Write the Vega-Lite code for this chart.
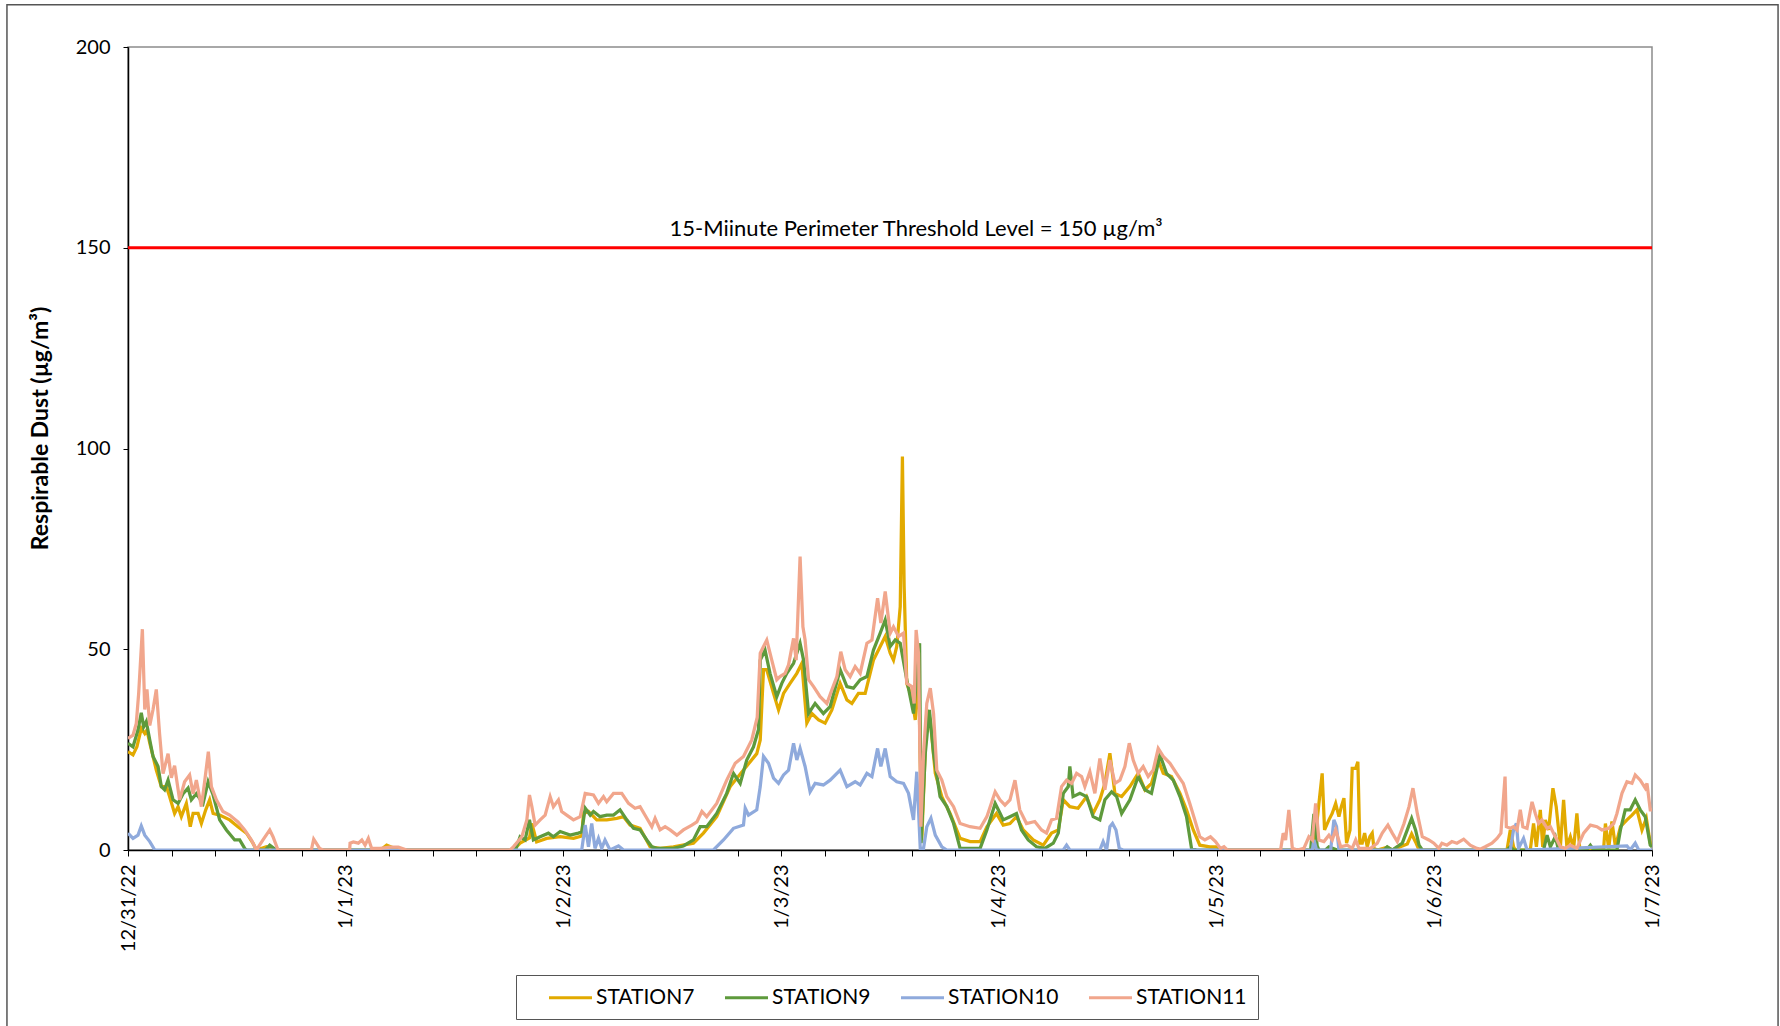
{
"$schema": "https://vega.github.io/schema/vega-lite/v6.json",
"width": 1524, "height": 803,
"autosize": {"type": "none"},
"padding": {"left": 128, "top": 47, "right": 128, "bottom": 176},
"background": "white",
"config": {"font": "Lato", "view": {"stroke": "#8c8c8c", "strokeWidth": 1.5}},
"datasets": {
"S7": [
{"day":0,"dust":24.5},{"day":0.023,"dust":23.7},{"day":0.041,"dust":25.7},{"day":0.061,"dust":30.3},{"day":0.077,"dust":29},{"day":0.087,"dust":29.9},{"day":0.1,"dust":26.6},{"day":0.115,"dust":23.3},{"day":0.13,"dust":19.9},{"day":0.153,"dust":15.8},{"day":0.176,"dust":15.8},{"day":0.191,"dust":13.3},{"day":0.214,"dust":9.1},{"day":0.23,"dust":10.8},{"day":0.245,"dust":8.3},{"day":0.268,"dust":11.6},{"day":0.286,"dust":5.8},{"day":0.299,"dust":9.1},{"day":0.322,"dust":9.1},{"day":0.337,"dust":6.6},{"day":0.357,"dust":10},{"day":0.375,"dust":12.5},{"day":0.391,"dust":9.1},{"day":0.421,"dust":8.7},{"day":0.467,"dust":7.5},{"day":0.505,"dust":5.8},{"day":0.544,"dust":4.2},{"day":0.574,"dust":1.7},{"day":0.59,"dust":0},{"day":0.636,"dust":0.8},{"day":0.681,"dust":0},{"day":1.16,"dust":0},{"day":1.188,"dust":1.2},{"day":1.22,"dust":0.5},{"day":1.26,"dust":0},{"day":1.77,"dust":0},{"day":1.801,"dust":1.7},{"day":1.844,"dust":3},{"day":1.855,"dust":6.6},{"day":1.877,"dust":2},{"day":1.923,"dust":2.9},{"day":1.985,"dust":3.3},{"day":2.046,"dust":2.9},{"day":2.084,"dust":3.5},{"day":2.092,"dust":9.1},{"day":2.115,"dust":9.6},{"day":2.153,"dust":7.5},{"day":2.199,"dust":7.5},{"day":2.245,"dust":7.9},{"day":2.276,"dust":8.3},{"day":2.306,"dust":6.2},{"day":2.352,"dust":5.4},{"day":2.398,"dust":0.8},{"day":2.444,"dust":0.4},{"day":2.505,"dust":0.8},{"day":2.597,"dust":1.7},{"day":2.643,"dust":4.2},{"day":2.704,"dust":8.3},{"day":2.766,"dust":15.8},{"day":2.827,"dust":19.9},{"day":2.888,"dust":24},{"day":2.904,"dust":27.4},{"day":2.919,"dust":44.9},{"day":2.934,"dust":44.9},{"day":2.965,"dust":39},{"day":2.988,"dust":34.9},{"day":3.011,"dust":39},{"day":3.041,"dust":41.5},{"day":3.072,"dust":44},{"day":3.095,"dust":46.5},{"day":3.118,"dust":31.6},{"day":3.141,"dust":34},{"day":3.172,"dust":32.4},{"day":3.202,"dust":31.6},{"day":3.233,"dust":34.9},{"day":3.271,"dust":41.5},{"day":3.302,"dust":37.4},{"day":3.325,"dust":36.5},{"day":3.355,"dust":39},{"day":3.386,"dust":39},{"day":3.424,"dust":47.3},{"day":3.455,"dust":50.7},{"day":3.478,"dust":53.2},{"day":3.501,"dust":49},{"day":3.516,"dust":47.3},{"day":3.531,"dust":50.7},{"day":3.547,"dust":60.6},{"day":3.557,"dust":98},{"day":3.565,"dust":65.6},{"day":3.577,"dust":41.5},{"day":3.6,"dust":38.2},{"day":3.616,"dust":32.4},{"day":3.631,"dust":45},{"day":3.646,"dust":2.5},{"day":3.669,"dust":34.9},{"day":3.685,"dust":32.4},{"day":3.708,"dust":19.1},{"day":3.738,"dust":13.3},{"day":3.776,"dust":9.1},{"day":3.822,"dust":2.9},{"day":3.868,"dust":2.1},{"day":3.914,"dust":2.1},{"day":3.945,"dust":5.8},{"day":3.989,"dust":9.1},{"day":4.02,"dust":6.2},{"day":4.051,"dust":6.6},{"day":4.081,"dust":8.3},{"day":4.112,"dust":5},{"day":4.158,"dust":2.5},{"day":4.204,"dust":1.2},{"day":4.242,"dust":4.2},{"day":4.273,"dust":5},{"day":4.296,"dust":12.5},{"day":4.326,"dust":10.8},{"day":4.364,"dust":10.4},{"day":4.403,"dust":13.3},{"day":4.433,"dust":9.1},{"day":4.464,"dust":12.5},{"day":4.487,"dust":16.6},{"day":4.51,"dust":24.1},{"day":4.533,"dust":14.1},{"day":4.564,"dust":13.3},{"day":4.602,"dust":15.8},{"day":4.64,"dust":19.1},{"day":4.671,"dust":15},{"day":4.701,"dust":16.6},{"day":4.732,"dust":22.4},{"day":4.755,"dust":19.1},{"day":4.793,"dust":18.3},{"day":4.832,"dust":14.1},{"day":4.862,"dust":10},{"day":4.893,"dust":5},{"day":4.923,"dust":1.2},{"day":4.969,"dust":0.8},{"day":5.0,"dust":0.8},{"day":5.031,"dust":0},{"day":5.44,"dust":0},{"day":5.447,"dust":0.8},{"day":5.462,"dust":7.5},{"day":5.485,"dust":19.1},{"day":5.496,"dust":5},{"day":5.516,"dust":7.5},{"day":5.531,"dust":9.1},{"day":5.547,"dust":11.6},{"day":5.562,"dust":8.3},{"day":5.573,"dust":10.8},{"day":5.585,"dust":12.9},{"day":5.597,"dust":1.7},{"day":5.613,"dust":5},{"day":5.623,"dust":20.3},{"day":5.639,"dust":20.3},{"day":5.649,"dust":22},{"day":5.658,"dust":1.7},{"day":5.669,"dust":1.7},{"day":5.68,"dust":4.2},{"day":5.692,"dust":0.8},{"day":5.704,"dust":3.3},{"day":5.715,"dust":4.2},{"day":5.723,"dust":0.4},{"day":5.738,"dust":0},{"day":5.784,"dust":0.7},{"day":5.807,"dust":0},{"day":5.876,"dust":1.5},{"day":5.896,"dust":4},{"day":5.914,"dust":2},{"day":5.93,"dust":0},{"day":6.334,"dust":0},{"day":6.349,"dust":5},{"day":6.364,"dust":0.8},{"day":6.372,"dust":0},{"day":6.441,"dust":0},{"day":6.456,"dust":6.6},{"day":6.469,"dust":0.8},{"day":6.487,"dust":10},{"day":6.498,"dust":0.8},{"day":6.51,"dust":7.5},{"day":6.525,"dust":5},{"day":6.545,"dust":15.4},{"day":6.56,"dust":10.8},{"day":6.579,"dust":0.8},{"day":6.594,"dust":12.5},{"day":6.609,"dust":0.8},{"day":6.625,"dust":3.3},{"day":6.64,"dust":0.4},{"day":6.655,"dust":9.1},{"day":6.668,"dust":0.4},{"day":6.778,"dust":0.4},{"day":6.786,"dust":6.6},{"day":6.801,"dust":0.4},{"day":6.816,"dust":7.1},{"day":6.832,"dust":0.8},{"day":6.855,"dust":5.8},{"day":6.885,"dust":7.5},{"day":6.908,"dust":8.7},{"day":6.931,"dust":10},{"day":6.954,"dust":5},{"day":6.974,"dust":7.9},{"day":6.992,"dust":1.7},{"day":7,"dust":1}
],
"S9": [
{"day":0,"dust":26.6},{"day":0.023,"dust":25.7},{"day":0.046,"dust":29.9},{"day":0.061,"dust":34.2},{"day":0.072,"dust":30.7},{"day":0.084,"dust":32},{"day":0.1,"dust":27.4},{"day":0.115,"dust":23.3},{"day":0.138,"dust":20.8},{"day":0.153,"dust":15.8},{"day":0.168,"dust":15},{"day":0.184,"dust":17.4},{"day":0.207,"dust":12.5},{"day":0.23,"dust":11.6},{"day":0.253,"dust":14},{"day":0.276,"dust":15.4},{"day":0.291,"dust":12.5},{"day":0.314,"dust":14},{"day":0.345,"dust":11.6},{"day":0.368,"dust":17},{"day":0.391,"dust":13.7},{"day":0.421,"dust":7.5},{"day":0.452,"dust":5},{"day":0.49,"dust":2.5},{"day":0.513,"dust":2.5},{"day":0.536,"dust":0.4},{"day":0.544,"dust":0},{"day":0.63,"dust":0},{"day":0.651,"dust":1.2},{"day":0.681,"dust":0},{"day":1.78,"dust":0},{"day":1.801,"dust":3.3},{"day":1.824,"dust":2.5},{"day":1.844,"dust":7.5},{"day":1.862,"dust":2.5},{"day":1.893,"dust":3.3},{"day":1.931,"dust":4.2},{"day":1.954,"dust":3.3},{"day":1.985,"dust":4.6},{"day":2.031,"dust":3.7},{"day":2.069,"dust":4.2},{"day":2.084,"dust":4.5},{"day":2.1,"dust":10.4},{"day":2.123,"dust":8.7},{"day":2.138,"dust":9.6},{"day":2.168,"dust":8.3},{"day":2.199,"dust":8.7},{"day":2.23,"dust":8.7},{"day":2.26,"dust":10},{"day":2.291,"dust":7.5},{"day":2.322,"dust":5.4},{"day":2.352,"dust":5},{"day":2.383,"dust":2.5},{"day":2.406,"dust":0.8},{"day":2.429,"dust":0.4},{"day":2.505,"dust":0.4},{"day":2.551,"dust":1},{"day":2.597,"dust":2.5},{"day":2.628,"dust":5.8},{"day":2.658,"dust":5.8},{"day":2.704,"dust":9.1},{"day":2.75,"dust":14.1},{"day":2.781,"dust":19.1},{"day":2.812,"dust":16.6},{"day":2.842,"dust":22.4},{"day":2.873,"dust":25.7},{"day":2.896,"dust":30},{"day":2.904,"dust":47.3},{"day":2.926,"dust":49.8},{"day":2.949,"dust":44},{"day":2.98,"dust":38.2},{"day":3.003,"dust":41.5},{"day":3.026,"dust":44},{"day":3.057,"dust":46.5},{"day":3.087,"dust":51.5},{"day":3.103,"dust":47.3},{"day":3.126,"dust":34},{"day":3.156,"dust":36.5},{"day":3.194,"dust":34},{"day":3.225,"dust":35.7},{"day":3.271,"dust":44.9},{"day":3.302,"dust":40.7},{"day":3.332,"dust":40.3},{"day":3.363,"dust":42.4},{"day":3.394,"dust":43.2},{"day":3.424,"dust":49.8},{"day":3.455,"dust":54},{"day":3.478,"dust":57.3},{"day":3.501,"dust":50.7},{"day":3.524,"dust":52.3},{"day":3.547,"dust":51.5},{"day":3.577,"dust":42.4},{"day":3.608,"dust":34},{"day":3.636,"dust":51.5},{"day":3.643,"dust":1.7},{"day":3.662,"dust":24},{"day":3.681,"dust":34.9},{"day":3.7,"dust":24},{"day":3.73,"dust":13.3},{"day":3.761,"dust":10.8},{"day":3.792,"dust":6.6},{"day":3.822,"dust":0.4},{"day":3.914,"dust":0.4},{"day":3.945,"dust":5},{"day":3.983,"dust":11.6},{"day":4.006,"dust":9.1},{"day":4.02,"dust":7.5},{"day":4.051,"dust":8.3},{"day":4.081,"dust":9.1},{"day":4.104,"dust":5},{"day":4.135,"dust":2.5},{"day":4.173,"dust":0.8},{"day":4.211,"dust":0.4},{"day":4.25,"dust":1.7},{"day":4.273,"dust":4.2},{"day":4.296,"dust":14.1},{"day":4.319,"dust":15.8},{"day":4.326,"dust":20.8},{"day":4.341,"dust":13.3},{"day":4.372,"dust":14.1},{"day":4.403,"dust":13.3},{"day":4.433,"dust":8.3},{"day":4.464,"dust":7.5},{"day":4.487,"dust":12.5},{"day":4.518,"dust":14.5},{"day":4.541,"dust":13.3},{"day":4.564,"dust":9.1},{"day":4.602,"dust":12.5},{"day":4.64,"dust":18.3},{"day":4.671,"dust":15},{"day":4.701,"dust":14.1},{"day":4.74,"dust":23.7},{"day":4.77,"dust":19.1},{"day":4.801,"dust":17.4},{"day":4.832,"dust":13.3},{"day":4.862,"dust":8.3},{"day":4.885,"dust":0.4},{"day":4.908,"dust":0},{"day":5.432,"dust":0},{"day":5.447,"dust":9},{"day":5.462,"dust":1},{"day":5.47,"dust":0},{"day":5.5,"dust":0},{"day":5.516,"dust":0.8},{"day":5.554,"dust":0},{"day":5.769,"dust":0},{"day":5.784,"dust":0.8},{"day":5.807,"dust":0},{"day":5.853,"dust":1.7},{"day":5.876,"dust":5},{"day":5.896,"dust":7.9},{"day":5.914,"dust":5},{"day":5.93,"dust":1.2},{"day":5.945,"dust":0},{"day":6.334,"dust":0},{"day":6.349,"dust":0.8},{"day":6.364,"dust":0},{"day":6.502,"dust":0},{"day":6.518,"dust":3.7},{"day":6.533,"dust":0.8},{"day":6.556,"dust":3.3},{"day":6.571,"dust":0},{"day":6.7,"dust":0},{"day":6.717,"dust":1.2},{"day":6.732,"dust":0},{"day":6.839,"dust":0},{"day":6.855,"dust":5},{"day":6.877,"dust":10},{"day":6.9,"dust":10},{"day":6.923,"dust":12.5},{"day":6.946,"dust":10},{"day":6.969,"dust":8.3},{"day":6.992,"dust":1.2},{"day":7,"dust":0.8}
],
"S10": [
{"day":0,"dust":4.2},{"day":0.023,"dust":2.9},{"day":0.046,"dust":3.7},{"day":0.061,"dust":6},{"day":0.077,"dust":3.7},{"day":0.1,"dust":2.1},{"day":0.123,"dust":0},{"day":2.084,"dust":0},{"day":2.1,"dust":6.2},{"day":2.115,"dust":0.8},{"day":2.13,"dust":6.6},{"day":2.145,"dust":0.4},{"day":2.161,"dust":2.9},{"day":2.176,"dust":0.4},{"day":2.191,"dust":2.5},{"day":2.214,"dust":0},{"day":2.253,"dust":1},{"day":2.276,"dust":0},{"day":2.689,"dust":0},{"day":2.735,"dust":2.5},{"day":2.781,"dust":5.4},{"day":2.827,"dust":6.2},{"day":2.835,"dust":10.4},{"day":2.85,"dust":8.7},{"day":2.888,"dust":10},{"day":2.904,"dust":15.8},{"day":2.919,"dust":23.3},{"day":2.942,"dust":21.6},{"day":2.965,"dust":17.9},{"day":2.988,"dust":16.6},{"day":3.011,"dust":18.7},{"day":3.034,"dust":19.9},{"day":3.057,"dust":26.6},{"day":3.072,"dust":22.4},{"day":3.087,"dust":25.3},{"day":3.11,"dust":20.8},{"day":3.133,"dust":14.5},{"day":3.156,"dust":16.6},{"day":3.194,"dust":16.2},{"day":3.225,"dust":17.4},{"day":3.271,"dust":19.9},{"day":3.302,"dust":15.8},{"day":3.34,"dust":17},{"day":3.363,"dust":16.2},{"day":3.394,"dust":19.1},{"day":3.417,"dust":18.3},{"day":3.443,"dust":25.3},{"day":3.458,"dust":20.8},{"day":3.478,"dust":25.3},{"day":3.501,"dust":18.3},{"day":3.531,"dust":17},{"day":3.562,"dust":16.6},{"day":3.585,"dust":14.1},{"day":3.608,"dust":7.5},{"day":3.623,"dust":19.5},{"day":3.639,"dust":0.4},{"day":3.654,"dust":0.4},{"day":3.669,"dust":5.8},{"day":3.688,"dust":7.9},{"day":3.708,"dust":3.7},{"day":3.738,"dust":0.8},{"day":3.761,"dust":0},{"day":4.296,"dust":0},{"day":4.311,"dust":1.2},{"day":4.326,"dust":0},{"day":4.464,"dust":0},{"day":4.479,"dust":2.1},{"day":4.495,"dust":0},{"day":4.51,"dust":5.8},{"day":4.522,"dust":6.6},{"day":4.538,"dust":5},{"day":4.553,"dust":0.4},{"day":4.571,"dust":0},{"day":5.44,"dust":0},{"day":5.447,"dust":2.5},{"day":5.459,"dust":0},{"day":5.524,"dust":0},{"day":5.539,"dust":7.5},{"day":5.551,"dust":5.8},{"day":5.562,"dust":0},{"day":6.349,"dust":0},{"day":6.364,"dust":5},{"day":6.377,"dust":6.6},{"day":6.387,"dust":0.4},{"day":6.41,"dust":2.9},{"day":6.426,"dust":0},{"day":6.885,"dust":1},{"day":6.9,"dust":0},{"day":6.923,"dust":1.7},{"day":6.939,"dust":0},{"day":7,"dust":0}
],
"S11": [
{"day":0,"dust":27.8},{"day":0.023,"dust":28.6},{"day":0.038,"dust":31.5},{"day":0.049,"dust":39},{"day":0.066,"dust":55},{"day":0.077,"dust":35},{"day":0.087,"dust":40},{"day":0.1,"dust":31},{"day":0.115,"dust":35},{"day":0.13,"dust":40},{"day":0.145,"dust":29},{"day":0.161,"dust":19},{"day":0.184,"dust":24},{"day":0.199,"dust":18},{"day":0.214,"dust":21},{"day":0.237,"dust":12.5},{"day":0.26,"dust":17},{"day":0.283,"dust":18.7},{"day":0.299,"dust":14},{"day":0.314,"dust":17.4},{"day":0.337,"dust":10.8},{"day":0.352,"dust":17},{"day":0.369,"dust":24.5},{"day":0.383,"dust":15.8},{"day":0.406,"dust":12.5},{"day":0.436,"dust":9.6},{"day":0.467,"dust":8.7},{"day":0.505,"dust":7},{"day":0.536,"dust":5},{"day":0.567,"dust":2.5},{"day":0.59,"dust":0},{"day":0.62,"dust":2.5},{"day":0.651,"dust":5},{"day":0.666,"dust":3.3},{"day":0.689,"dust":0},{"day":0.842,"dust":0},{"day":0.853,"dust":2.7},{"day":0.88,"dust":0.4},{"day":0.896,"dust":0},{"day":1.018,"dust":0},{"day":1.02,"dust":1.7},{"day":1.035,"dust":2},{"day":1.058,"dust":1.7},{"day":1.074,"dust":2.5},{"day":1.089,"dust":1.2},{"day":1.104,"dust":2.9},{"day":1.119,"dust":0.4},{"day":1.158,"dust":0.4},{"day":1.204,"dust":0.7},{"day":1.242,"dust":0.7},{"day":1.28,"dust":0},{"day":1.755,"dust":0},{"day":1.77,"dust":0.8},{"day":1.809,"dust":3.3},{"day":1.832,"dust":7.5},{"day":1.844,"dust":13.7},{"day":1.855,"dust":10.8},{"day":1.87,"dust":6.2},{"day":1.893,"dust":7.5},{"day":1.916,"dust":8.7},{"day":1.939,"dust":13.3},{"day":1.954,"dust":10.8},{"day":1.977,"dust":12.5},{"day":1.992,"dust":9.6},{"day":2.015,"dust":8.7},{"day":2.046,"dust":7.5},{"day":2.077,"dust":8.3},{"day":2.1,"dust":14.1},{"day":2.138,"dust":13.7},{"day":2.161,"dust":11.6},{"day":2.184,"dust":13.3},{"day":2.199,"dust":12},{"day":2.23,"dust":14.1},{"day":2.268,"dust":14.1},{"day":2.299,"dust":11.6},{"day":2.329,"dust":10.4},{"day":2.352,"dust":10.8},{"day":2.383,"dust":7.9},{"day":2.406,"dust":5.8},{"day":2.421,"dust":7.9},{"day":2.444,"dust":5},{"day":2.467,"dust":5.8},{"day":2.49,"dust":5},{"day":2.521,"dust":3.7},{"day":2.551,"dust":5},{"day":2.59,"dust":6.2},{"day":2.613,"dust":7},{"day":2.636,"dust":9.6},{"day":2.658,"dust":8.3},{"day":2.704,"dust":11.6},{"day":2.75,"dust":17.4},{"day":2.789,"dust":21.6},{"day":2.827,"dust":23.3},{"day":2.865,"dust":27.4},{"day":2.89,"dust":33},{"day":2.904,"dust":49},{"day":2.919,"dust":50.7},{"day":2.934,"dust":52.3},{"day":2.957,"dust":47.3},{"day":2.98,"dust":42.4},{"day":2.995,"dust":43.2},{"day":3.018,"dust":44},{"day":3.034,"dust":46.1},{"day":3.057,"dust":52.7},{"day":3.069,"dust":47.3},{"day":3.087,"dust":73.1},{"day":3.1,"dust":55.6},{"day":3.11,"dust":52.3},{"day":3.126,"dust":42.4},{"day":3.149,"dust":40.7},{"day":3.179,"dust":38.2},{"day":3.21,"dust":36.5},{"day":3.233,"dust":39.9},{"day":3.256,"dust":43.2},{"day":3.274,"dust":49.4},{"day":3.294,"dust":44.9},{"day":3.317,"dust":43.2},{"day":3.34,"dust":45.7},{"day":3.363,"dust":44},{"day":3.394,"dust":51.5},{"day":3.417,"dust":52.3},{"day":3.443,"dust":62.7},{"day":3.458,"dust":56.5},{"day":3.478,"dust":64.4},{"day":3.501,"dust":54},{"day":3.516,"dust":55.6},{"day":3.539,"dust":53.2},{"day":3.562,"dust":54},{"day":3.577,"dust":41.5},{"day":3.6,"dust":40.7},{"day":3.611,"dust":36.5},{"day":3.62,"dust":54.8},{"day":3.631,"dust":49},{"day":3.642,"dust":5.8},{"day":3.654,"dust":24},{"day":3.669,"dust":36.5},{"day":3.685,"dust":40.3},{"day":3.7,"dust":34},{"day":3.715,"dust":19.9},{"day":3.738,"dust":17.4},{"day":3.761,"dust":13.3},{"day":3.792,"dust":10.8},{"day":3.822,"dust":6.6},{"day":3.868,"dust":5.8},{"day":3.914,"dust":5.4},{"day":3.945,"dust":8.3},{"day":3.983,"dust":14.5},{"day":4.005,"dust":12.5},{"day":4.028,"dust":11.2},{"day":4.051,"dust":12.5},{"day":4.074,"dust":17.4},{"day":4.096,"dust":10},{"day":4.127,"dust":6.6},{"day":4.165,"dust":7.1},{"day":4.196,"dust":5},{"day":4.219,"dust":4.2},{"day":4.242,"dust":7.5},{"day":4.265,"dust":7.9},{"day":4.288,"dust":15.8},{"day":4.311,"dust":17.4},{"day":4.334,"dust":16.6},{"day":4.357,"dust":19.1},{"day":4.38,"dust":18.3},{"day":4.395,"dust":15.8},{"day":4.418,"dust":19.5},{"day":4.441,"dust":14.1},{"day":4.464,"dust":22.8},{"day":4.487,"dust":15},{"day":4.51,"dust":22.4},{"day":4.533,"dust":16.6},{"day":4.556,"dust":17.4},{"day":4.579,"dust":20.8},{"day":4.599,"dust":26.6},{"day":4.617,"dust":22.4},{"day":4.64,"dust":19.1},{"day":4.663,"dust":20.8},{"day":4.686,"dust":18.3},{"day":4.709,"dust":19.9},{"day":4.732,"dust":25.3},{"day":4.755,"dust":23.3},{"day":4.786,"dust":21.6},{"day":4.816,"dust":19.1},{"day":4.847,"dust":16.6},{"day":4.877,"dust":11.6},{"day":4.9,"dust":7.5},{"day":4.923,"dust":3.3},{"day":4.946,"dust":2.5},{"day":4.972,"dust":3.3},{"day":4.995,"dust":2.1},{"day":5.018,"dust":0.4},{"day":5.034,"dust":0.8},{"day":5.049,"dust":0},{"day":5.294,"dust":0},{"day":5.306,"dust":4.2},{"day":5.317,"dust":2.5},{"day":5.332,"dust":10},{"day":5.348,"dust":0.4},{"day":5.371,"dust":0},{"day":5.401,"dust":0.4},{"day":5.424,"dust":3.3},{"day":5.44,"dust":2.5},{"day":5.455,"dust":11.6},{"day":5.47,"dust":2.5},{"day":5.493,"dust":2.1},{"day":5.516,"dust":3.7},{"day":5.531,"dust":2.5},{"day":5.547,"dust":5},{"day":5.57,"dust":0.8},{"day":5.6,"dust":1.2},{"day":5.623,"dust":0.4},{"day":5.639,"dust":2.5},{"day":5.654,"dust":0.4},{"day":5.707,"dust":0.4},{"day":5.738,"dust":1.7},{"day":5.761,"dust":4.2},{"day":5.787,"dust":6.2},{"day":5.807,"dust":4.2},{"day":5.83,"dust":2.1},{"day":5.861,"dust":6.6},{"day":5.884,"dust":10.8},{"day":5.902,"dust":15.4},{"day":5.922,"dust":9.1},{"day":5.945,"dust":3.3},{"day":5.975,"dust":2.5},{"day":5.998,"dust":1.7},{"day":6.021,"dust":0.4},{"day":6.035,"dust":1.7},{"day":6.058,"dust":1.2},{"day":6.081,"dust":2.1},{"day":6.104,"dust":1.7},{"day":6.135,"dust":2.7},{"day":6.165,"dust":1.2},{"day":6.196,"dust":0.4},{"day":6.211,"dust":0.2},{"day":6.234,"dust":0.8},{"day":6.265,"dust":1.7},{"day":6.288,"dust":2.9},{"day":6.306,"dust":4.2},{"day":6.315,"dust":10.8},{"day":6.325,"dust":18.3},{"day":6.331,"dust":5.8},{"day":6.349,"dust":5.4},{"day":6.364,"dust":5.8},{"day":6.38,"dust":5},{"day":6.395,"dust":10},{"day":6.407,"dust":5.8},{"day":6.426,"dust":5.4},{"day":6.449,"dust":12},{"day":6.464,"dust":9.1},{"day":6.479,"dust":6.6},{"day":6.495,"dust":7.5},{"day":6.518,"dust":5.4},{"day":6.533,"dust":5.8},{"day":6.556,"dust":3.3},{"day":6.579,"dust":0.8},{"day":6.602,"dust":0.4},{"day":6.625,"dust":1.2},{"day":6.655,"dust":0.4},{"day":6.686,"dust":4.2},{"day":6.717,"dust":6.2},{"day":6.747,"dust":5.8},{"day":6.77,"dust":5},{"day":6.801,"dust":5.4},{"day":6.824,"dust":6.6},{"day":6.839,"dust":9.1},{"day":6.862,"dust":14.1},{"day":6.885,"dust":17},{"day":6.908,"dust":16.6},{"day":6.923,"dust":18.7},{"day":6.946,"dust":17.4},{"day":6.969,"dust":15.4},{"day":6.977,"dust":16.6},{"day":6.992,"dust":10},{"day":7,"dust":10}
]
},
"layer": [
{
"data": {"values": [{}]},
"mark": {"type": "rect", "fillOpacity": 0, "stroke": "#555555", "strokeWidth": 1.5, "clip": false},
"encoding": {
"x": {"datum": -0.556, "type": "quantitative"},
"x2": {"datum": 7.579},
"y": {"datum": 210.5, "type": "quantitative"},
"y2": {"datum": -50}
}
},
{
"data": {"values": [{}]},
"mark": {"type": "rule", "color": "#FF0000", "strokeWidth": 3},
"encoding": {"y": {"datum": 150, "type": "quantitative"}}
},
{
"data": {"values": [{}]},
"mark": {"type": "text", "text": "15-Miinute Perimeter Threshold Level = 150 µg/m³", "font": "Lato", "fontSize": 22, "color": "black", "baseline": "alphabetic", "align": "center", "dy": -12},
"encoding": {"x": {"datum": 3.62, "type": "quantitative"}, "y": {"datum": 150, "type": "quantitative"}}
},
{
"data": {"name": "S7"},
"mark": {"type": "line", "strokeWidth": 3.25, "clip": true},
"encoding": {
"x": {"field": "day", "type": "quantitative",
  "scale": {"domain": [0, 7], "nice": false, "zero": false},
  "axis": {"title": null, "grid": false,
    "values": [0,0.2,0.4,0.6,0.8,1,1.2,1.4,1.6,1.8,2,2.2,2.4,2.6,2.8,3,3.2,3.4,3.6,3.8,4,4.2,4.4,4.6,4.8,5,5.2,5.4,5.6,5.8,6,6.2,6.4,6.6,6.8,7],
    "labelExpr": "datum.value % 1 === 0 ? ['12/31/22','1/1/23','1/2/23','1/3/23','1/4/23','1/5/23','1/6/23','1/7/23'][datum.value] : ''",
    "labelAngle": 270, "labelFontSize": 20, "labelFont": "Lato", "labelColor": "black",
    "labelFlush": false, "labelOverlap": false, "labelBound": false, "labelPadding": 8,
    "tickSize": 6, "tickColor": "black", "domainColor": "black", "domainWidth": 1.5}},
"y": {"field": "dust", "type": "quantitative",
  "scale": {"domain": [0, 200], "nice": false, "zero": true},
  "axis": {"title": "Respirable Dust (µg/m³)", "grid": false, "values": [0,50,100,150,200],
    "labelFontSize": 20, "labelFont": "Lato", "labelColor": "black", "labelPadding": 13,
    "tickSize": 5, "tickColor": "black", "domainColor": "black", "domainWidth": 1.5,
    "titleFont": "Lato", "titleFontSize": 23, "titleFontWeight": "bold", "titleColor": "black",
    "titleX": -88, "titleY": 381, "titleBaseline": "middle", "titleAlign": "center", "titleAngle": 270}},
"color": {"datum": "STATION7", "type": "nominal",
  "scale": {"domain": ["STATION7", "STATION9", "STATION10", "STATION11"], "range": ["#E2AA00", "#5E9A3C", "#8FAADC", "#F1A68C"]},
  "legend": {"title": null, "orient": "none", "legendX": 388, "legendY": 928, "direction": "horizontal", "columns": 4,
    "symbolType": "M1.05,0H5.35", "symbolSize": 400, "symbolStrokeWidth": 3, "labelFontSize": 21, "labelFont": "Lato", "labelColor": "black",
    "labelOffset": 46, "columnPadding": 8, "padding": 11, "strokeColor": "#555555", "fillColor": "white", "labelLimit": 0}}
}
},
{
"data": {"name": "S9"},
"mark": {"type": "line", "strokeWidth": 3.25, "clip": true},
"encoding": {"x": {"field": "day", "type": "quantitative"}, "y": {"field": "dust", "type": "quantitative"}, "color": {"datum": "STATION9", "type": "nominal"}}
},
{
"data": {"name": "S10"},
"mark": {"type": "line", "strokeWidth": 3.25, "clip": true},
"encoding": {"x": {"field": "day", "type": "quantitative"}, "y": {"field": "dust", "type": "quantitative"}, "color": {"datum": "STATION10", "type": "nominal"}}
},
{
"data": {"name": "S11"},
"mark": {"type": "line", "strokeWidth": 3.25, "clip": true},
"encoding": {"x": {"field": "day", "type": "quantitative"}, "y": {"field": "dust", "type": "quantitative"}, "color": {"datum": "STATION11", "type": "nominal"}}
}
]
}
